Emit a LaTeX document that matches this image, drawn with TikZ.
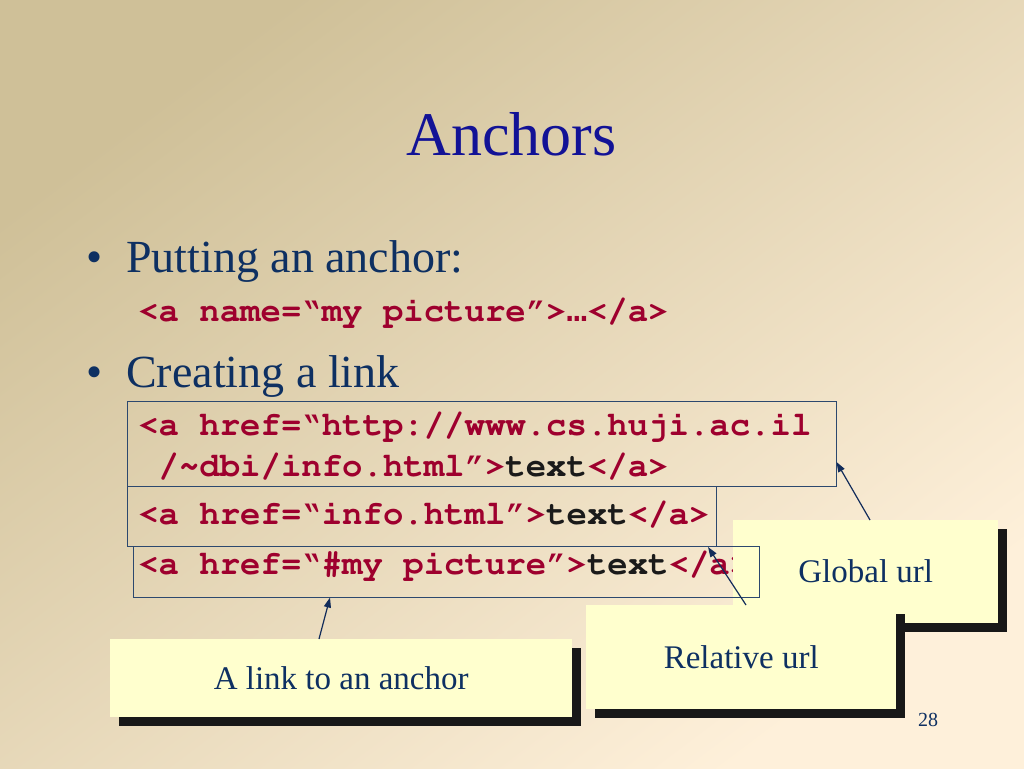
\documentclass[tikz,border=0pt]{standalone}
\usepackage[T1]{fontenc}
\usepackage{fontspec}
\setmainfont{Liberation Serif}
\newfontfamily\codefont{Liberation Mono}
\usetikzlibrary{shadows,arrows.meta}
\definecolor{bgtan}{RGB}{207,192,152}
\definecolor{bgcream}{RGB}{254,240,218}
\definecolor{titleblue}{RGB}{18,18,150}
\definecolor{navy}{RGB}{14,48,98}
\definecolor{codered}{RGB}{158,0,46}
\definecolor{codeblack}{RGB}{26,26,26}
\definecolor{boxline}{RGB}{44,72,110}
\definecolor{noteyellow}{RGB}{255,255,206}
\definecolor{shadowc}{RGB}{24,24,24}
\definecolor{arrowc}{RGB}{18,44,90}
\newcommand{\blk}[1]{\textcolor{codeblack}{#1}}
\newcommand{\courb}{\fontencoding{T1}\fontfamily{pcr}\fontseries{b}\fontshape{n}\fontsize{34}{40}\selectfont}
\newcommand{\myqL}{\textquotedblleft}
\newcommand{\myqR}{\textquotedblright}
\newcommand{\mydots}{{\fontencoding{TU}\codefont\bfseries …}}
\begin{document}
\begin{tikzpicture}[x=1pt,y=-1pt,
 txt/.style={inner sep=0pt, anchor=base west},
 titlet/.style={inner sep=0pt, anchor=base, text=titleblue, font=\fontsize{62}{70}\selectfont},
 bullett/.style={txt, text=navy, font=\fontsize{46}{52}\selectfont},
 codet/.style={txt, text=codered, font=\courb},
 codebox/.style={draw=boxline, line width=1.2pt, inner sep=0pt, anchor=north west},
 note/.style={fill=noteyellow, inner sep=0pt, anchor=north west, text=navy,
   font=\fontsize{33}{38}\selectfont,
   general shadow={fill=shadowc, shadow xshift=9pt, shadow yshift=-9pt}},
 arr/.style={draw=arrowc, line width=1.2pt, -{Triangle[length=10pt,width=7pt]}},
 pagenum/.style={inner sep=0pt, text=navy, font=\fontsize{20}{24}\selectfont}
]
\useasboundingbox (0,0) rectangle (1024,768);
\shade[top color=bgtan, bottom color=bgcream, shading angle=37] (0,0) rectangle (1024,768);

% title and bullets
\node[titlet] (title) at (511.5,155) {Anchors};
\node[bullett] (b1) at (86,272) {•};
\node[bullett] (t1) at (126,272) {Putting an anchor:};
\node[codet] (c0) at (138,321) {<a name=\myqL my picture\myqR>\mydots</a>};
\node[bullett] (b2) at (86,387) {•};
\node[bullett] (t2) at (126,387) {Creating a link};

% code lines
\node[codet] (c1) at (138,435) {<a href=\myqL http://www.cs.huji.ac.il};
\node[codet] (c2) at (158.4,476) {/\string~dbi/info.html\myqR>\blk{text}</a>};
\node[codet] (c3) at (138,524) {<a href=\myqL info.html\myqR>\blk{text}</a>};
\node[codet] (c4) at (138,574) {<a href=\myqL\#my picture\myqR>\blk{text}</a>};

% callouts
\node[note, minimum width=265pt, minimum height=103pt] (glob) at (733,520) {Global url};
\node[note, minimum width=310pt, minimum height=104pt] (rel) at (586,605) {Relative url};
\node[note, minimum width=462pt, minimum height=78pt] (link) at (110,639) {A link to an anchor};

% code boxes
\node[codebox, minimum width=709pt, minimum height=85pt] (box1) at (127,401) {};
\node[codebox, minimum width=589pt, minimum height=60pt] (box2) at (127,486) {};
\node[codebox, minimum width=626pt, minimum height=51pt] (box3) at (133,546) {};

% arrow ends
\coordinate (gtail) at (870,520);
\coordinate (gtip) at (836.5,462);
\coordinate (rtail) at (746,605);
\coordinate (rtip) at (708,547);
\coordinate (ltail) at (319,639);
\coordinate (ltip) at (330,597.5);
\draw[arr] (gtail) -- (gtip);
\draw[arr] (rtail) -- (rtip);
\draw[arr] (ltail) -- (ltip);

\node[pagenum] (pg) at (928,720) {28};
\end{tikzpicture}
\end{document}
